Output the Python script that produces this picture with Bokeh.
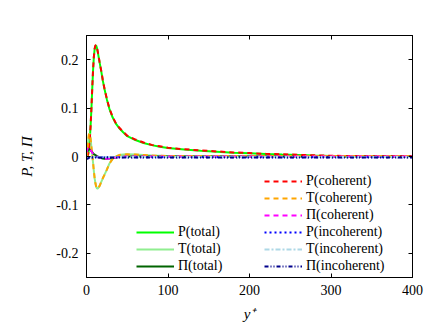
from bokeh.plotting import figure
from bokeh.models import Range1d, FixedTicker, LinearAxis, Legend, LegendItem, CustomLabelingPolicy
from bokeh.embed import file_html
from bokeh.resources import INLINE

# ---------------- data ----------------
y_plus = [0, 1, 2, 3, 4, 5, 6, 7, 8, 9, 10, 11, 12, 13, 14, 16, 18, 20, 22, 25,
          28, 32, 36, 40, 45, 50, 60, 70, 80, 90, 100, 120, 140, 160, 180, 200,
          220, 240, 260, 280, 300, 320, 340, 360, 380, 400]

P_total = [0.0, 0.001, 0.004, 0.015, 0.034, 0.062, 0.097, 0.138, 0.176, 0.205,
           0.222, 0.229, 0.229, 0.223, 0.214, 0.195, 0.177, 0.157, 0.140, 0.118,
           0.099, 0.081, 0.068, 0.059, 0.050, 0.042, 0.034, 0.028, 0.0235, 0.020,
           0.0175, 0.0145, 0.012, 0.010, 0.008, 0.0065, 0.005, 0.004, 0.0032, 0.002,
           0.001, 0.0005, 0.0002, 0.0001, 0.0, 0.0]
T_total = [0.0, 0.012, 0.032, 0.045, 0.047, 0.037, 0.020, 0.005, -0.012, -0.030,
           -0.045, -0.056, -0.063, -0.066, -0.066, -0.061, -0.053, -0.045, -0.038, -0.027,
           -0.015, -0.005, 0.0, 0.003, 0.004, 0.0045, 0.004, 0.003, 0.002, 0.0015,
           0.001, 0.0008, 0.0007, 0.0006, 0.0006, 0.0005, 0.0005, 0.0005, 0.0005, 0.0005,
           0.0005, 0.0005, 0.0005, 0.0005, 0.0005, 0.0005]
Pi_total = [0.004, 0.010, 0.014, 0.016, 0.015, 0.013, 0.011, 0.009, 0.007, 0.005,
            0.004, 0.003, 0.002, 0.001, 0.0, -0.002, -0.003, -0.004, -0.0045, -0.0045,
            -0.004, -0.003, -0.002, -0.001, -0.0005, 0.0, 0.0, 0.0, 0.0, 0.0,
            0.0, 0.0, 0.0, 0.0, 0.0, 0.0, 0.0, 0.0, 0.0, 0.0,
            0.0, 0.0, 0.0, 0.0, 0.0, 0.0]

P_coh = [0.0, 0.001, 0.005, 0.016, 0.035, 0.063, 0.098, 0.139, 0.177, 0.206,
         0.223, 0.230, 0.230, 0.224, 0.215, 0.196, 0.178, 0.158, 0.141, 0.119,
         0.100, 0.082, 0.069, 0.060, 0.051, 0.043, 0.035, 0.029, 0.024, 0.021,
         0.018, 0.015, 0.0125, 0.0105, 0.0085, 0.007, 0.0055, 0.0045, 0.0035, 0.0025,
         0.0015, 0.001, 0.0007, 0.0005, 0.0005, 0.0005]
T_coh = [0.0, 0.012, 0.032, 0.046, 0.047, 0.037, 0.020, 0.005, -0.012, -0.030,
         -0.045, -0.056, -0.063, -0.066, -0.066, -0.061, -0.053, -0.045, -0.038, -0.027,
         -0.015, -0.005, 0.0, 0.003, 0.004, 0.0045, 0.004, 0.003, 0.002, 0.0015,
         0.001, 0.001, 0.001, 0.001, 0.001, 0.001, 0.001, 0.001, 0.001, 0.001,
         0.001, 0.001, 0.001, 0.001, 0.001, 0.001]
Pi_coh = [0.008, 0.015, 0.018, 0.019, 0.017, 0.014, 0.011, 0.008, 0.006, 0.004,
          0.003, 0.002, 0.001, 0.0, -0.001, -0.002, -0.003, -0.004, -0.0045, -0.0045,
          -0.004, -0.003, -0.002, -0.001, -0.0005, 0.0, 0.0, 0.0, 0.0, 0.0,
          0.0, 0.0, 0.0, 0.0, 0.0, 0.0, 0.0, 0.0, 0.0, 0.0,
          0.0, 0.0, 0.0, 0.0, 0.0, 0.0]

P_incoh = [-0.001, -0.0015, -0.002, -0.002, -0.002, -0.002, -0.002, -0.002, -0.0015, -0.0015,
           -0.0015, -0.0015, -0.0015, -0.0015, -0.0015, -0.0015, -0.0015, -0.0015, -0.0015, -0.0015,
           -0.0015, -0.0015, -0.0015, -0.0015, -0.0015, -0.0015, -0.0015, -0.0015, -0.0015, -0.0015,
           -0.0015, -0.0015, -0.0015, -0.0015, -0.0015, -0.0015, -0.0015, -0.0015, -0.0015, -0.0015,
           -0.0015, -0.0015, -0.0015, -0.0015, -0.0015, -0.0015]
T_incoh = [0.0, -0.0005, -0.001, -0.001, -0.001, -0.001, -0.001, -0.001, -0.001, -0.001,
           -0.001, -0.001, -0.001, -0.001, -0.001, -0.001, -0.001, -0.001, -0.001, -0.001,
           -0.001, -0.001, -0.001, -0.001, -0.001, -0.001, -0.001, -0.001, -0.001, -0.001,
           -0.001, -0.001, -0.001, -0.001, -0.001, -0.001, -0.001, -0.001, -0.001, -0.001,
           -0.001, -0.001, -0.001, -0.001, -0.001, -0.001]
Pi_incoh = [-0.004, -0.005, -0.004, -0.003, -0.002, -0.002, -0.002, -0.002, -0.002, -0.002,
            -0.002, -0.002, -0.002, -0.002, -0.002, -0.002, -0.002, -0.002, -0.002, -0.002,
            -0.002, -0.002, -0.002, -0.002, -0.002, -0.002, -0.002, -0.002, -0.002, -0.002,
            -0.002, -0.002, -0.002, -0.002, -0.002, -0.002, -0.002, -0.002, -0.002, -0.002,
            -0.002, -0.002, -0.002, -0.002, -0.002, -0.002]

x_ticks = [0, 100, 200, 300, 400]
x_tick_labels = ["0", "100", "200", "300", "400"]
y_ticks = [-0.2, -0.1, 0.0, 0.1, 0.2]
y_tick_labels = ["-0.2", "-0.1", "0", "0.1", "0.2"]

x_label = "y\u207a"
y_label = "P, T, \u03a0"

total_labels = ["P(total)", "T(total)", "\u03a0(total)"]
split_labels = ["P(coherent)", "T(coherent)", "\u03a0(coherent)",
                "P(incoherent)", "T(incoherent)", "\u03a0(incoherent)"]

# ---------------- figure ----------------
FONT = "Liberation Serif"

p = figure(width=436, height=325, output_backend="svg", toolbar_location=None,
           x_range=Range1d(0, 400), y_range=Range1d(-0.25, 0.25),
           min_border_left=86, min_border_right=24, min_border_top=35,
           min_border_bottom=48, x_axis_label=x_label, y_axis_label=y_label)
p.grid.visible = False
p.outline_line_color = "black"
p.background_fill_color = "white"
p.border_fill_color = "white"


def style_axis(ax, ticks, labels, show_labels=True):
    ax.ticker = FixedTicker(ticks=ticks)
    ax.minor_tick_line_color = None
    ax.major_tick_in = 4
    ax.major_tick_out = 0
    ax.major_tick_line_color = "black"
    ax.axis_line_color = "black"
    ax.axis_label_text_font = FONT
    ax.axis_label_text_font_size = "15px"
    ax.axis_label_text_font_style = "italic"
    ax.axis_label_text_color = "black"
    ax.major_label_text_font = FONT
    ax.major_label_text_color = "black"
    if show_labels:
        ax.major_label_overrides = {t: l for t, l in zip(ticks, labels)}
        ax.major_label_text_font_size = "14px"
    else:
        # mirror axis: ticks only, no tick labels drawn
        ax.major_label_text_font_size = "1px"
        ax.major_label_policy = CustomLabelingPolicy(code="return new Set()")


style_axis(p.xaxis[0], x_ticks, x_tick_labels)
p.xaxis[0].major_label_standoff = 7
p.xaxis[0].axis_label_standoff = 8
style_axis(p.yaxis[0], y_ticks, y_tick_labels)
p.yaxis[0].major_label_standoff = 8
p.yaxis[0].axis_label_standoff = 18

ax_top = LinearAxis()
style_axis(ax_top, x_ticks, x_tick_labels, show_labels=False)
p.add_layout(ax_top, "above")
ax_right = LinearAxis()
style_axis(ax_right, y_ticks, y_tick_labels, show_labels=False)
p.add_layout(ax_right, "right")

# ---------------- curves ----------------
W = 2
r_Pt = p.line(y_plus, P_total, line_color="#00ff00", line_width=W)
r_Tt = p.line(y_plus, T_total, line_color="#90ee90", line_width=W)
r_Pit = p.line(y_plus, Pi_total, line_color="#006400", line_width=W)

r_Pc = p.line(y_plus, P_coh, line_color="#ff0000", line_width=W, line_dash="5 4")
r_Tc = p.line(y_plus, T_coh, line_color="#ffa500", line_width=W, line_dash="5 4")
r_Pic = p.line(y_plus, Pi_coh, line_color="#ff00ff", line_width=W, line_dash="5 4")

r_Pi_ = p.line(y_plus, P_incoh, line_color="#0000ff", line_width=W, line_dash="2 3")
r_Ti_ = p.line(y_plus, T_incoh, line_color="#add8e6", line_width=W, line_dash="5 2 2 2")
r_Pii_ = p.line(y_plus, Pi_incoh, line_color="#00008b", line_width=W, line_dash="4 2 1 2 1 2")


def make_legend(labels, renderers, loc):
    lg = Legend(items=[LegendItem(label=l, renderers=[r]) for l, r in zip(labels, renderers)],
                location=loc, orientation="vertical")
    lg.label_text_font = FONT
    lg.label_text_font_size = "14px"
    lg.label_text_color = "black"
    lg.glyph_width = 38
    lg.glyph_height = 14
    lg.label_height = 14
    lg.spacing = 1
    lg.padding = 0
    lg.margin = 0
    lg.label_standoff = 4
    lg.border_line_alpha = 0
    lg.background_fill_alpha = 0
    return lg


p.add_layout(make_legend(total_labels, [r_Pt, r_Tt, r_Pit], (50, 3)))
p.add_layout(make_legend(split_labels, [r_Pc, r_Tc, r_Pic, r_Pi_, r_Ti_, r_Pii_], (178, 3)))

open("out.html", "w").write(file_html(p, INLINE))
